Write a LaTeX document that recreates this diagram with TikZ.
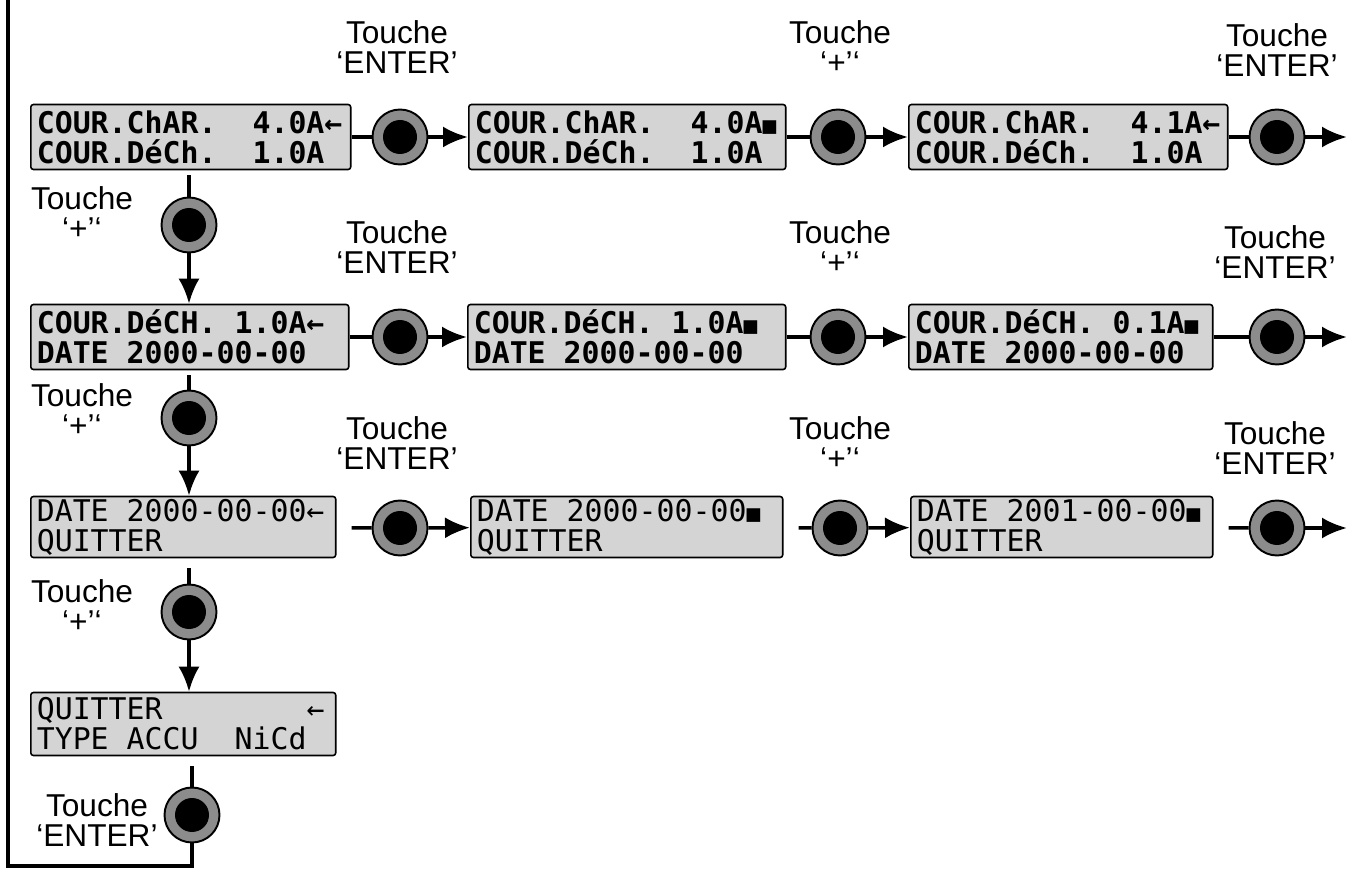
\documentclass[tikz,border=0pt]{standalone}
\usepackage{fontspec}
\setmainfont{Liberation Sans}
\newfontfamily\lcdfamily{DejaVu Sans Mono}
\usetikzlibrary{arrows.meta}

\definecolor{lcdgray}{gray}{0.83}
\definecolor{keygray}{gray}{0.55}

\newcommand{\lcdbold}{\lcdfamily\bfseries\fontsize{17}{17}\selectfont}
\newcommand{\lcdthin}{\lcdfamily\fontsize{17}{17}\selectfont}
\newcommand{\curs}{←}
\newcommand{\blk}{{\fontsize{13}{13}\selectfont ■}}
\newcommand{\bl}{\phantom{0}}

\tikzset{
  lcd/.style={draw, fill=lcdgray, line width=0.9pt, rounded corners=1.5pt,
    anchor=west, inner xsep=0.12cm, inner ysep=0pt, minimum height=1.3cm, align=left},
  key/.style={circle, draw, line width=1.1pt, fill=keygray, minimum size=1.1cm, inner sep=0pt,
    path picture={\fill[black] (path picture bounding box.center) circle (0.34cm);}},
  lbl/.style={align=center, inner sep=0pt, font=\fontsize{18}{17}\selectfont},
  wire/.style={line width=2pt},
  go/.style={wire, -{Latex[length=0.5cm,width=0.42cm]}},
}

\begin{document}
\begin{tikzpicture}[x=0.02cm,y=-0.02cm]
  \useasboundingbox (0,0) rectangle (1355,874);

  % courant de charge
  \node[lcd, font=\lcdbold, text width=6.16cm] (a1) at (30,137) {COUR.ChAR.\bl\bl4.0A\curs\\COUR.DéCh.\bl\bl1.0A};
  \node[key] (ka1) at (400,137) {};
  \node[lcd, font=\lcdbold, text width=6.10cm] (a2) at (468,137) {COUR.ChAR.\bl\bl4.0A\blk\\COUR.DéCh.\bl\bl1.0A};
  \node[key] (ka2) at (838,137) {};
  \node[lcd, font=\lcdbold, text width=6.14cm] (a3) at (908,137) {COUR.ChAR.\bl\bl4.1A\curs\\COUR.DéCh.\bl\bl1.0A};
  \node[key] (ka3) at (1277,137) {};
  \coordinate (ea) at (1347,137);
  \node[lbl] (ta1) at (397,47) {Touche\\‘ENTER’};
  \node[lbl] (ta2) at (840,47) {Touche\\‘+’‘};
  \node[lbl] (ta3) at (1277,50) {Touche\\‘ENTER’};
  \draw[wire] (a1) -- (ka1);
  \draw[go] (ka1) -- (a2);
  \draw[wire] (a2) -- (ka2);
  \draw[go] (ka2) -- (a3);
  \draw[wire] (a3) -- (ka3);
  \draw[go] (ka3) -- (ea);

  % courant de decharge
  \node[lcd, font=\lcdbold, text width=6.12cm] (b1) at (30,337) {COUR.DéCH.\bl1.0A\curs\\DATE\bl2000-00-00};
  \node[key] (kb1) at (400,337) {};
  \node[lcd, font=\lcdbold, text width=6.12cm] (b2) at (467,337) {COUR.DéCH.\bl1.0A\blk\\DATE\bl2000-00-00};
  \node[key] (kb2) at (838,337) {};
  \node[lcd, font=\lcdbold, text width=5.84cm] (b3) at (908,337) {COUR.DéCH.\bl0.1A\blk\\DATE\bl2000-00-00};
  \node[key] (kb3) at (1277,337) {};
  \coordinate (eb) at (1347,337);
  \node[lbl] (tb1) at (397,247) {Touche\\‘ENTER’};
  \node[lbl] (tb2) at (840,247) {Touche\\‘+’‘};
  \node[lbl] (tb3) at (1275,252) {Touche\\‘ENTER’};
  \draw[wire] (b1) -- (kb1);
  \draw[go] (kb1) -- (b2);
  \draw[wire] (b2) -- (kb2);
  \draw[go] (kb2) -- (b3);
  \draw[wire] (b3) -- (kb3);
  \draw[go] (kb3) -- (eb);

  % date
  \node[lcd, font=\lcdthin, text width=5.86cm, minimum height=1.22cm] (c1) at (30,527) {DATE\bl2000-00-00\curs\\QUITTER};
  \node[key] (kc1) at (400,528) {};
  \node[lcd, font=\lcdthin, text width=6.00cm, minimum height=1.22cm] (c2) at (470,527) {DATE\bl2000-00-00\blk\\QUITTER};
  \node[key] (kc2) at (840,528) {};
  \node[lcd, font=\lcdthin, text width=5.80cm, minimum height=1.22cm] (c3) at (910,527) {DATE\bl2001-00-00\blk\\QUITTER};
  \node[key] (kc3) at (1277,528) {};
  \coordinate (ec) at (1347,528);
  \node[lbl] (tc1) at (397,443) {Touche\\‘ENTER’};
  \node[lbl] (tc2) at (840,443) {Touche\\‘+’‘};
  \node[lbl] (tc3) at (1275,448) {Touche\\‘ENTER’};
  \draw[wire, shorten <=0.3cm] (c1) -- (kc1);
  \draw[go] (kc1) -- (c2);
  \draw[wire, shorten <=0.3cm] (c2) -- (kc2);
  \draw[go] (kc2) -- (c3);
  \draw[wire, shorten <=0.3cm] (c3) -- (kc3);
  \draw[go] (kc3) -- (ec);

  % quitter
  \node[lcd, font=\lcdthin, text width=5.86cm, minimum height=1.26cm] (d1) at (30,724) {QUITTER\bl\bl\bl\bl\bl\bl\bl\bl\curs\\TYPE\bl ACCU\bl\bl NiCd};

  % touches '+' et retour
  \node[key] (kv1) at (189,225) {};
  \node[key] (kv2) at (189,418) {};
  \node[key] (kv3) at (189,612) {};
  \node[key] (kv4) at (192,815) {};
  \node[lbl] (tv1) at (82,213) {Touche\\‘+’‘};
  \node[lbl] (tv2) at (82,410) {Touche\\‘+’‘};
  \node[lbl] (tv3) at (82,606) {Touche\\‘+’‘};
  \node[lbl] (tv4) at (97,820) {Touche\\‘ENTER’};
  \coordinate (lb) at (8,866);
  \coordinate (lt) at (8,0);
  \draw[wire, shorten <=0.1cm] (kv1 |- a1.south) -- (kv1);
  \draw[go] (kv1) -- (kv1 |- b1.north);
  \draw[wire, shorten <=0.1cm] (kv2 |- b1.south) -- (kv2);
  \draw[go] (kv2) -- (kv2 |- c1.north);
  \draw[wire, shorten <=0.2cm] (kv3 |- c1.south) -- (kv3);
  \draw[go] (kv3) -- (kv3 |- d1.north);
  \draw[wire, shorten <=0.2cm] (kv4 |- d1.south) -- (kv4);
  \draw[wire] (kv4) |- (lb) -- (lt);
\end{tikzpicture}
\end{document}
